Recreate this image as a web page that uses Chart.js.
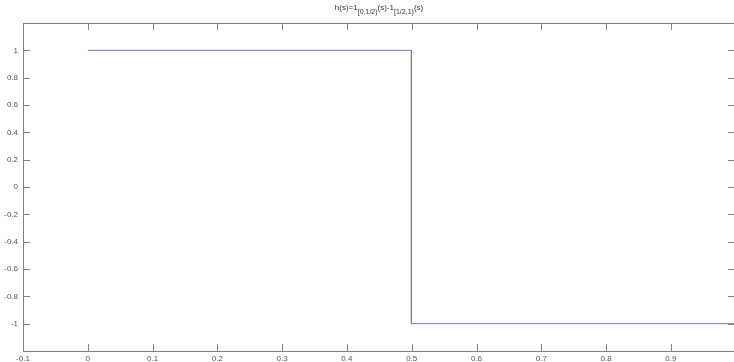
<!DOCTYPE html>
<html lang="en">
<head>
    <meta charset="UTF-8">
    <title>h(s)</title>
    <script src="https://cdn.jsdelivr.net/npm/chart.js"></script>
    <style>
        html, body {
            margin: 0;
            padding: 0;
            background: white;
            overflow: hidden;
        }
        #wrap {
            position: relative;
            width: 737px;
            height: 362px;
        }
        #title {
            position: absolute;
            top: 3px;
            left: 0;
            width: 758px;
            text-align: center;
            font-family: "Liberation Sans", Arial, sans-serif;
            font-size: 8px;
            color: #333;
            line-height: 10px;
        }
        #title sub {
            font-size: 7px;
            vertical-align: -4px;
            line-height: 0;
        }
    </style>
</head>
<body>
<div id="wrap">
    <div id="title">h(s)=1<sub>[0,1/2)</sub>(s)-1<sub>[1/2,1)</sub>(s)</div>
    <canvas id="haarChart" width="737" height="362"></canvas>
</div>

<script>
    // step points of the function
    const sValues = [0, 0.4995, 0.4995, 0.999];
    const hValues = [1, 1, -1, -1];

    const xTicks = [-0.1, 0, 0.1, 0.2, 0.3, 0.4, 0.5, 0.6, 0.7, 0.8, 0.9];
    const yTicks = [-1, -0.8, -0.6, -0.4, -0.2, 0, 0.2, 0.4, 0.6, 0.8, 1];

    const points = sValues.map((s, i) => ({ x: s, y: hValues[i] }));

    // matlab style box with ticks pointing inward
    const boxPlugin = {
        id: 'box',
        afterDraw(chart) {
            const { ctx, chartArea: a, scales } = chart;
            const len = 7;
            ctx.save();
            ctx.strokeStyle = '#808080';
            ctx.lineWidth = 1;
            ctx.strokeRect(Math.round(a.left) + 0.5, Math.round(a.top) + 0.5,
                Math.round(a.right - a.left), Math.round(a.bottom - a.top));
            ctx.beginPath();
            xTicks.forEach(v => {
                const px = Math.round(scales.x.getPixelForValue(v)) + 0.5;
                ctx.moveTo(px, a.bottom);
                ctx.lineTo(px, a.bottom - len);
                ctx.moveTo(px, a.top);
                ctx.lineTo(px, a.top + len);
            });
            yTicks.forEach(v => {
                const py = Math.round(scales.y.getPixelForValue(v)) + 0.5;
                ctx.moveTo(a.left, py);
                ctx.lineTo(a.left + len, py);
                ctx.moveTo(a.right, py);
                ctx.lineTo(a.right - len, py);
            });
            ctx.stroke();
            ctx.restore();
        }
    };

    const tickFont = { family: '"Liberation Sans", Arial, sans-serif', size: 8 };

    new Chart(document.getElementById('haarChart'), {
        type: 'line',
        data: {
            datasets: [{
                data: points,
                borderColor: '#7a70cc',
                borderWidth: 1,
                pointRadius: 0,
                fill: false,
                tension: 0
            }]
        },
        options: {
            responsive: false,
            animation: false,
            layout: { padding: { top: 23, right: 2, left: 0, bottom: 0 } },
            plugins: {
                legend: { display: false },
                tooltip: { enabled: false }
            },
            scales: {
                x: {
                    type: 'linear',
                    min: -0.1,
                    max: 0.999,
                    afterBuildTicks: s => { s.ticks = xTicks.map(v => ({ value: v })); },
                    afterFit: s => { s.height = 11; },
                    grid: { display: false, drawTicks: false },
                    border: { display: false },
                    ticks: {
                        font: tickFont,
                        color: '#555',
                        padding: 3,
                        maxRotation: 0,
                        autoSkip: false,
                        callback: v => String(v)
                    }
                },
                y: {
                    min: -1.2,
                    max: 1.2,
                    afterBuildTicks: s => { s.ticks = yTicks.map(v => ({ value: v })); },
                    afterFit: s => { s.width = 23; },
                    grid: { display: false, drawTicks: false },
                    border: { display: false },
                    ticks: {
                        font: tickFont,
                        color: '#555',
                        padding: 5,
                        autoSkip: false,
                        callback: v => String(v)
                    }
                }
            }
        },
        plugins: [boxPlugin]
    });
</script>
</body>
</html>
